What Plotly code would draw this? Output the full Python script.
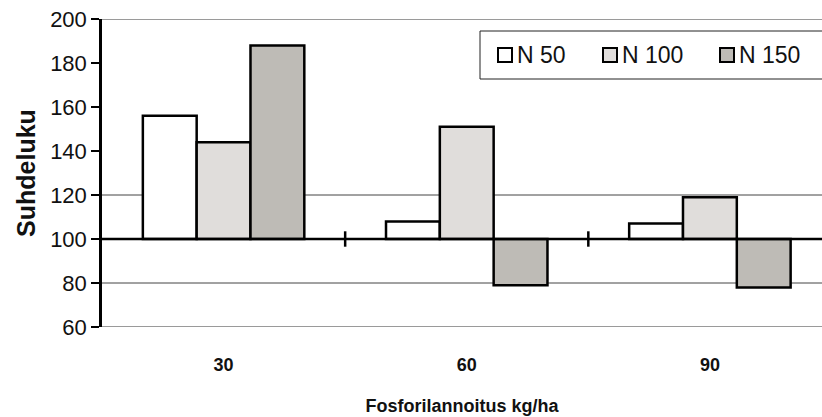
import plotly.graph_objects as go

categories = ["30", "60", "90"]
series_names = ["N 50", "N 100", "N 150"]
n50 = [156, 108, 107]
n100 = [144, 151, 119]
n150 = [188, 79, 78]
colors = ["#ffffff", "#e0dddb", "#bebbb6"]
base_value = 100
y_ticks = [60, 80, 100, 120, 140, 160, 180, 200]

W, H = 822, 417
ML, MR, MT, MB = 102, 0, 19, 90
PW, PH = W - ML - MR, H - MT - MB


def px(x):
    return (x - ML) / PW


def py(y):
    return (H - MB - y) / PH


fig = go.Figure()
for name, vals, col in zip(series_names, [n50, n100, n150], colors):
    fig.add_trace(go.Bar(
        x=categories,
        y=[v - base_value for v in vals],
        base=base_value,
        name=name,
        marker=dict(color=col, line=dict(color="#000000", width=2.5)),
        showlegend=False,
    ))

shapes = []
for yv, col, w in [(200, "#9a9a9a", 2), (60, "#9a9a9a", 2), (120, "#444444", 1), (80, "#444444", 1)]:
    shapes.append(dict(type="line", xref="paper", yref="y", x0=0, x1=1, y0=yv, y1=yv,
                       line=dict(color=col, width=w), layer="below"))
shapes.append(dict(type="line", xref="paper", yref="y", x0=0, x1=1, y0=base_value, y1=base_value,
                   line=dict(color="#000000", width=2.5), layer="above"))
for xb in [0.5, 1.5]:
    shapes.append(dict(type="line", xref="x", yref="y", x0=xb, x1=xb, y0=96.5, y1=103.5,
                       line=dict(color="#000000", width=2.5)))

# custom legend (box partially cut at right edge like the reference)
shapes.append(dict(type="rect", xref="paper", yref="paper",
                   x0=px(480), x1=px(830), y0=py(79), y1=py(31),
                   line=dict(color="#222222", width=1), fillcolor="white"))
annotations = []
leg_x = [498, 603, 720]
for lx, name, col in zip(leg_x, series_names, colors):
    shapes.append(dict(type="rect", xref="paper", yref="paper",
                       x0=px(lx), x1=px(lx + 14), y0=py(62), y1=py(48),
                       line=dict(color="#000000", width=2), fillcolor=col))
    annotations.append(dict(xref="paper", yref="paper", x=px(lx + 17), y=py(55),
                            xanchor="left", yanchor="middle", showarrow=False,
                            text=name, font=dict(size=23, color="#111111")))

fig.update_layout(
    width=W, height=H,
    margin=dict(l=ML, r=MR, t=MT, b=MB),
    plot_bgcolor="white", paper_bgcolor="white",
    barmode="group", bargap=0.336, bargroupgap=0,
    shapes=shapes, annotations=annotations,
    font=dict(family="Arial, Liberation Sans, sans-serif", color="#111111"),
    showlegend=False,
    xaxis=dict(
        type="category", range=[-0.5, 2.461],
        showgrid=False, showline=False, ticks="",
        tickfont=dict(size=18, weight="bold", color="#111111"),
        title=dict(text="Fosforilannoitus kg/ha",
                   font=dict(size=18, weight="bold"), standoff=25),
        ticklabelstandoff=25,
    ),
    yaxis=dict(
        range=[60, 200], tickvals=y_ticks,
        showgrid=False, zeroline=False,
        showline=True, linecolor="#000000", linewidth=2.5,
        ticks="outside", ticklen=8, tickwidth=2, tickcolor="#000000",
        tickfont=dict(size=22, color="#111111"),
        title=dict(text="Suhdeluku", font=dict(size=25, weight="bold"), standoff=8),
    ),
)

fig.write_html("out.html")
